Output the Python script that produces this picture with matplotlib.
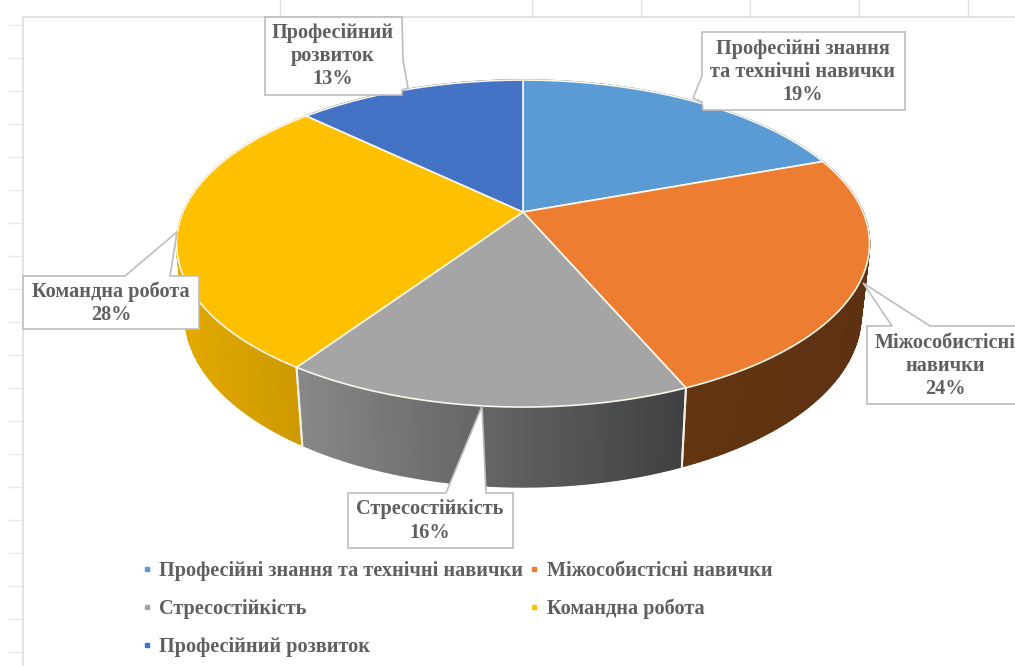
import numpy as np
import matplotlib
matplotlib.use('Agg')
import matplotlib.pyplot as plt
from matplotlib.patches import Polygon
from matplotlib.lines import Line2D
from matplotlib.collections import PolyCollection
from matplotlib.colors import LinearSegmentedColormap

categories = ['Професійні знання та технічні навички', 'Міжособистісні навички',
              'Стресостійкість', 'Командна робота', 'Професійний розвиток']
values = [19.45, 24.1, 15.9, 27.7, 12.85]
label_names = ['Професійні знання\nта технічні навички', 'Міжособистісні\nнавички',
               'Стресостійкість', 'Командна робота', 'Професійний\nрозвиток']
colors = ['#5B9BD5', '#ED7D31', '#A5A5A5', '#FFC000', '#4472C4']
side_colors = [('#3f6f9c', '#3f6f9c'), ('#633510', '#5e3112'),
               ('#888888', '#3e4042'), ('#e2a900', '#cc9800'), ('#2f4f8c', '#2f4f8c')]

# callout shapes, in pixels of the 1015x666 picture
callouts = [
    ([(702, 32), (905, 32), (905, 110), (703, 110), (702, 102), (693, 98), (702, 76)], (803, 72)),
    ([(867, 326), (892, 326), (863, 283), (930, 326), (1016, 326), (1016, 404), (867, 404)], (945, 366)),
    ([(348, 493), (446, 493), (482, 406), (486, 493), (513, 493), (513, 548), (348, 548)], (430, 521)),
    ([(23, 276), (125, 276), (177, 232), (170, 276), (199, 276), (199, 329), (23, 329)], (111, 303)),
    ([(265, 17), (402, 17), (403, 60), (408, 88), (402, 90), (402, 95), (265, 95)], (333, 56)),
]

CX, CY = 523, 212
K, AY, AX = 0.193, 157.4, 340
FONT = 'Liberation Serif'
TXT = '#5f5f5f'


def project(frac, sx=1.0, sy=1.0, dy=0.0):
    # share of the circle (clockwise from the top) to a point of the tilted disc
    t = 2 * np.pi * np.asarray(frac)
    x, y = np.sin(t), np.cos(t)
    d = 1 + K * y
    return CX + sx * AX * x / d, CY + dy - sy * AY * y / d


fig = plt.figure(figsize=(10.15, 6.66), dpi=100)
ax = fig.add_axes([0, 0, 1, 1])
ax.set_xlim(0, 1015)
ax.set_ylim(666, 0)
ax.axis('off')

# spreadsheet grid behind the chart
for gy in np.arange(25, 666, 33):
    ax.plot([9, 23], [gy, gy], color='#e8e8e8', lw=1, zorder=1)
for gx in [280, 532, 641, 750, 859, 968]:
    ax.plot([gx, gx], [0, 17], color='#e4e4e4', lw=1, zorder=1)
ax.plot([23, 23, 1015], [666, 17, 17], color='#dedede', lw=1.2, zorder=1)

edges = np.concatenate([[0], np.cumsum(values)]) / np.sum(values)

# side walls, back to front
for i in [0, 4, 3, 1, 2]:
    fr = np.linspace(edges[i], edges[i + 1], 120)
    x0, y0 = project(fr)
    x1, y1 = project(fr, 0.975, 1.05, 70)
    cmap = LinearSegmentedColormap.from_list('side', side_colors[i])
    lo, hi = min(x0.min(), x1.min()), max(x0.max(), x1.max())
    quads, cols = [], []
    for j in range(len(fr) - 1):
        quads.append([(x0[j], y0[j]), (x0[j + 1], y0[j + 1]), (x1[j + 1], y1[j + 1]), (x1[j], y1[j])])
        cols.append(cmap((x0[j] - lo) / (hi - lo)))
    ax.add_collection(PolyCollection(quads, facecolors=cols, edgecolors=cols, linewidths=1.2, zorder=2))
    for e in (edges[i], edges[i + 1]):
        ex0, ey0 = project(e)
        ex1, ey1 = project(e, 0.975, 1.05, 70)
        if ey0 > CY + 100:
            ax.plot([ex0, ex1], [ey0, ey1], color='#f4efe4', lw=1.4, zorder=3)

# top face
for i in range(len(values)):
    fr = np.linspace(edges[i], edges[i + 1], 120)
    x0, y0 = project(fr)
    pts = np.column_stack([np.r_[CX, x0], np.r_[CY, y0]])
    ax.add_patch(Polygon(pts, closed=True, facecolor=colors[i], edgecolor='#fbf6ea', lw=1.2,
                         joinstyle='round', zorder=4))

# data labels
for (shape, (tx, ty)), name, v in zip(callouts, label_names, values):
    ax.add_patch(Polygon(shape, closed=True, facecolor='white', edgecolor='#bdbdbd', lw=1.2,
                         joinstyle='miter', zorder=5, clip_on=True))
    ax.text(tx, ty, f'{name}\n{round(v)}%', ha='center', va='center', fontsize=14.6, fontweight='bold',
            family=FONT, color=TXT, linespacing=1.22, zorder=6, clip_on=True)

# legend, filled row by row like the original
handles = [Line2D([], [], ls='none', marker='s', ms=3, color=c) for c in colors]
order = [0, 2, 4, 1, 3]
ax.legend([handles[i] for i in order], [categories[i] for i in order], ncol=2,
          loc='upper left', bbox_to_anchor=(141 / 1015, 1 - 561 / 666), frameon=False,
          prop={'family': FONT, 'weight': 'bold', 'size': 14.6}, labelcolor=TXT,
          handlelength=0.6, handletextpad=0.3, columnspacing=0.25, labelspacing=0.88,
          borderpad=0, borderaxespad=0)

fig.savefig('out.png', dpi=100)
